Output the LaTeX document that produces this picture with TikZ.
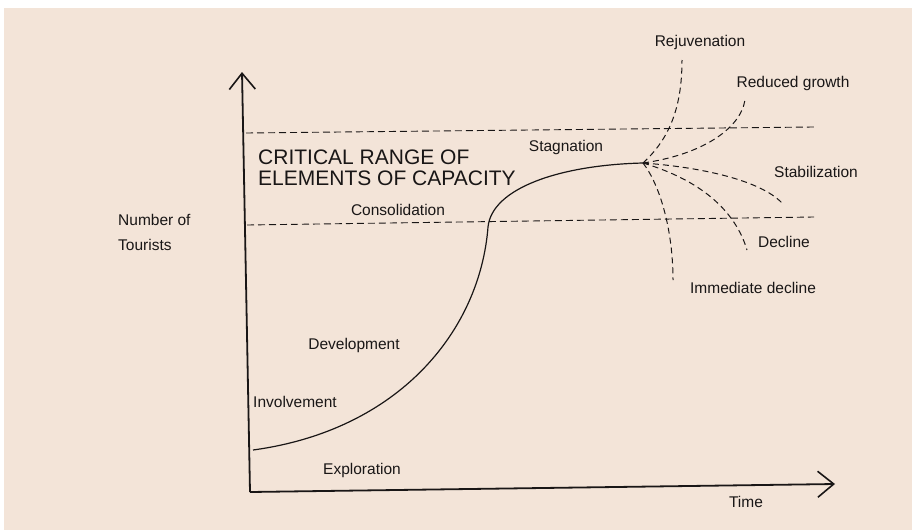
\documentclass[tikz,border=0pt]{standalone}
\usepackage{fontspec}
\setmainfont{Liberation Sans}
\usetikzlibrary{arrows.meta}
\definecolor{paper}{RGB}{243,228,216}
\definecolor{ink}{RGB}{25,22,22}
\begin{document}
\begin{tikzpicture}[x=1pt,y=-1pt,
  lbl/.style={text=ink,inner sep=0pt,font=\fontsize{15.5}{17}\selectfont},
  biglbl/.style={text=ink,inner sep=0pt,font=\fontsize{21}{24}\selectfont,align=left},
  axis/.style={draw=ink,line width=1.8pt,-{Straight Barb[length=16pt,width=26pt,line width=1.6pt]}},
  dashline/.style={draw=ink,line width=0.9pt,dash pattern=on 7pt off 4pt},
  branch/.style={draw=ink,line width=1pt,dash pattern=on 6pt off 4pt},
  curve/.style={draw=ink,line width=1.2pt}]
\useasboundingbox (0,0) rectangle (912,530);
\fill[white] (0,0) rectangle (912,530);
\fill[paper] (4,8) rectangle (912,530);
% axes
\coordinate (O) at (250,492);
\coordinate (ytip) at (242,72);
\coordinate (xtip) at (835,484);
\draw[axis] (O) -- (ytip);
\draw[axis] (O) -- (xtip);
% critical range lines
\coordinate (u1) at (246,133);
\coordinate (u2) at (814,127);
\coordinate (l1) at (247,225);
\coordinate (l2) at (814,217);
\draw[dashline] (u1) -- (u2);
\draw[dashline] (l1) -- (l2);
% main curve
\coordinate (S) at (253,450);
\coordinate (M) at (488,227);
\coordinate (P) at (643,163);
\draw[curve] (S) .. controls (400,430) and (480,330) .. (M)
                 .. controls (492,188) and (560,165) .. (P);
% branches
\coordinate (rej) at (682,60);
\coordinate (red) at (745,100);
\coordinate (sta) at (782,203);
\coordinate (dec) at (747,250);
\coordinate (imm) at (673,280);
\draw[branch] (P) .. controls (668,140) and (682,110) .. (rej);
\draw[branch] (P) .. controls (700,155) and (740,130) .. (red);
\draw[branch] (P) .. controls (700,167) and (760,180) .. (sta);
\draw[branch] (P) .. controls (700,180) and (735,210) .. (dec);
\draw[branch] (P) .. controls (660,185) and (673,230) .. (imm);
% labels
\node[lbl] (lrej) at (700,42) {Rejuvenation};
\node[lbl] (lred) at (793,83) {Reduced growth};
\node[lbl] (lsta) at (816,172) {Stabilization};
\node[lbl] (ldec) at (784,242) {Decline};
\node[lbl] (limm) at (753,288) {Immediate decline};
\node[lbl] (lstag) at (566,147) {Stagnation};
\node[biglbl,anchor=west] (crit1) at (258,157) {CRITICAL RANGE OF};
\node[biglbl,anchor=west] (crit2) at (258,178) {ELEMENTS OF CAPACITY};
\node[lbl] (lcons) at (398,210) {Consolidation};
\node[lbl,anchor=west] (num1) at (118,220) {Number of};
\node[lbl,anchor=west] (num2) at (118,245) {Tourists};
\node[lbl] (ldev) at (354,345) {Development};
\node[lbl] (linv) at (295,402) {Involvement};
\node[lbl] (lexp) at (362,470) {Exploration};
\node[lbl] (ltime) at (746,502) {Time};
\end{tikzpicture}
\end{document}
